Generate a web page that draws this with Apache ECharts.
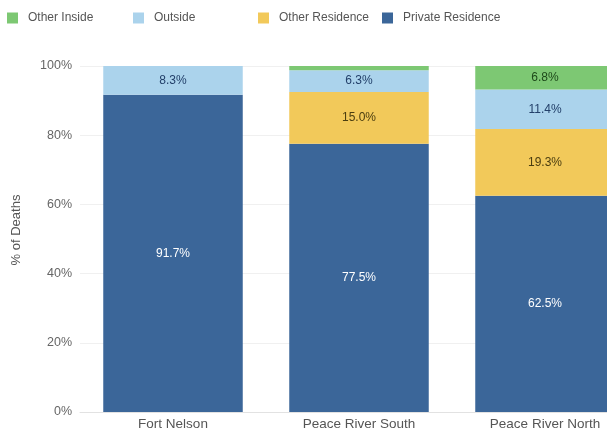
<!DOCTYPE html>
<html>
<head>
<meta charset="utf-8">
<script src="https://cdn.jsdelivr.net/npm/echarts@6/dist/echarts.min.js"></script>
<style>
  html, body { margin: 0; padding: 0; background: #fff; overflow: hidden; }
  #chart { width: 638px; height: 435px; }
</style>
</head>
<body>
<div id="chart"></div>
<script>
// Place of death by health service delivery area (percent of deaths)
const categories = ['Fort Nelson', 'Peace River South', 'Peace River North'];
const privateResidence = [91.7, 77.5, 62.5];
const otherResidence = [0, 15.0, 19.3];
const outside = [8.3, 6.3, 11.4];
const otherInside = [0, 1.2, 6.8];
const yTicks = [0, 20, 40, 60, 80, 100];
const legendNames = ['Other Inside', 'Outside', 'Other Residence', 'Private Residence'];

const font = 'Liberation Sans, Arial, sans-serif';

function seg(name, data, color, labelColor) {
  return {
    name: name,
    type: 'bar',
    stack: 'total',
    barCategoryGap: '25%',
    data: data.map(v => (v > 0 ? v : null)),
    itemStyle: { color: color },
    label: {
      show: true,
      position: 'inside',
      color: labelColor,
      fontFamily: font,
      fontSize: 12,
      formatter: p => (p.value >= 3 ? p.value.toFixed(1) + '%' : '')
    },
    emphasis: { disabled: true }
  };
}

// one legend block per entry, laid out in equal-width columns
const legendLeft = [7, 133, 258, 382];
const legends = legendNames.map((n, i) => ({
  left: legendLeft[i],
  top: 12,
  padding: 0,
  itemWidth: 11,
  itemHeight: 11,
  icon: 'rect',
  textStyle: { fontFamily: font, fontSize: 12, color: '#555', padding: [0, 0, 0, 5] },
  data: [n]
}));

const chart = echarts.init(document.getElementById('chart'), null, { renderer: 'canvas' });
chart.setOption({
  animation: false,
  backgroundColor: '#ffffff',
  legend: legends,
  grid: { left: 80, top: 66, bottom: 23, right: 0, containLabel: false, outerBoundsMode: 'none' },
  xAxis: {
    type: 'category',
    data: categories,
    axisTick: { show: false },
    axisLine: { show: true, lineStyle: { color: '#e2e2e2' } },
    axisLabel: { color: '#555', fontFamily: font, fontSize: 13.5, margin: 5 }
  },
  yAxis: {
    type: 'value',
    min: yTicks[0],
    max: yTicks[yTicks.length - 1],
    interval: yTicks[1] - yTicks[0],
    name: '% of Deaths',
    nameLocation: 'middle',
    nameRotate: 90,
    nameGap: 57,
    nameTextStyle: { color: '#555', fontFamily: font, fontSize: 13, padding: [0, 0, 0, 18] },
    axisLabel: { color: '#666', fontFamily: font, fontSize: 12.5, formatter: '{value}%', margin: 8 },
    splitLine: { show: true, lineStyle: { color: '#f0f0f0' } },
    axisLine: { show: false },
    axisTick: { show: false }
  },
  series: [
    seg('Private Residence', privateResidence, '#3B6699', '#ffffff'),
    seg('Other Residence', otherResidence, '#F2C95A', '#4a3d10'),
    seg('Outside', outside, '#ABD3EC', '#23406a'),
    seg('Other Inside', otherInside, '#7DC873', '#1e4a1a')
  ]
});
</script>
</body>
</html>
